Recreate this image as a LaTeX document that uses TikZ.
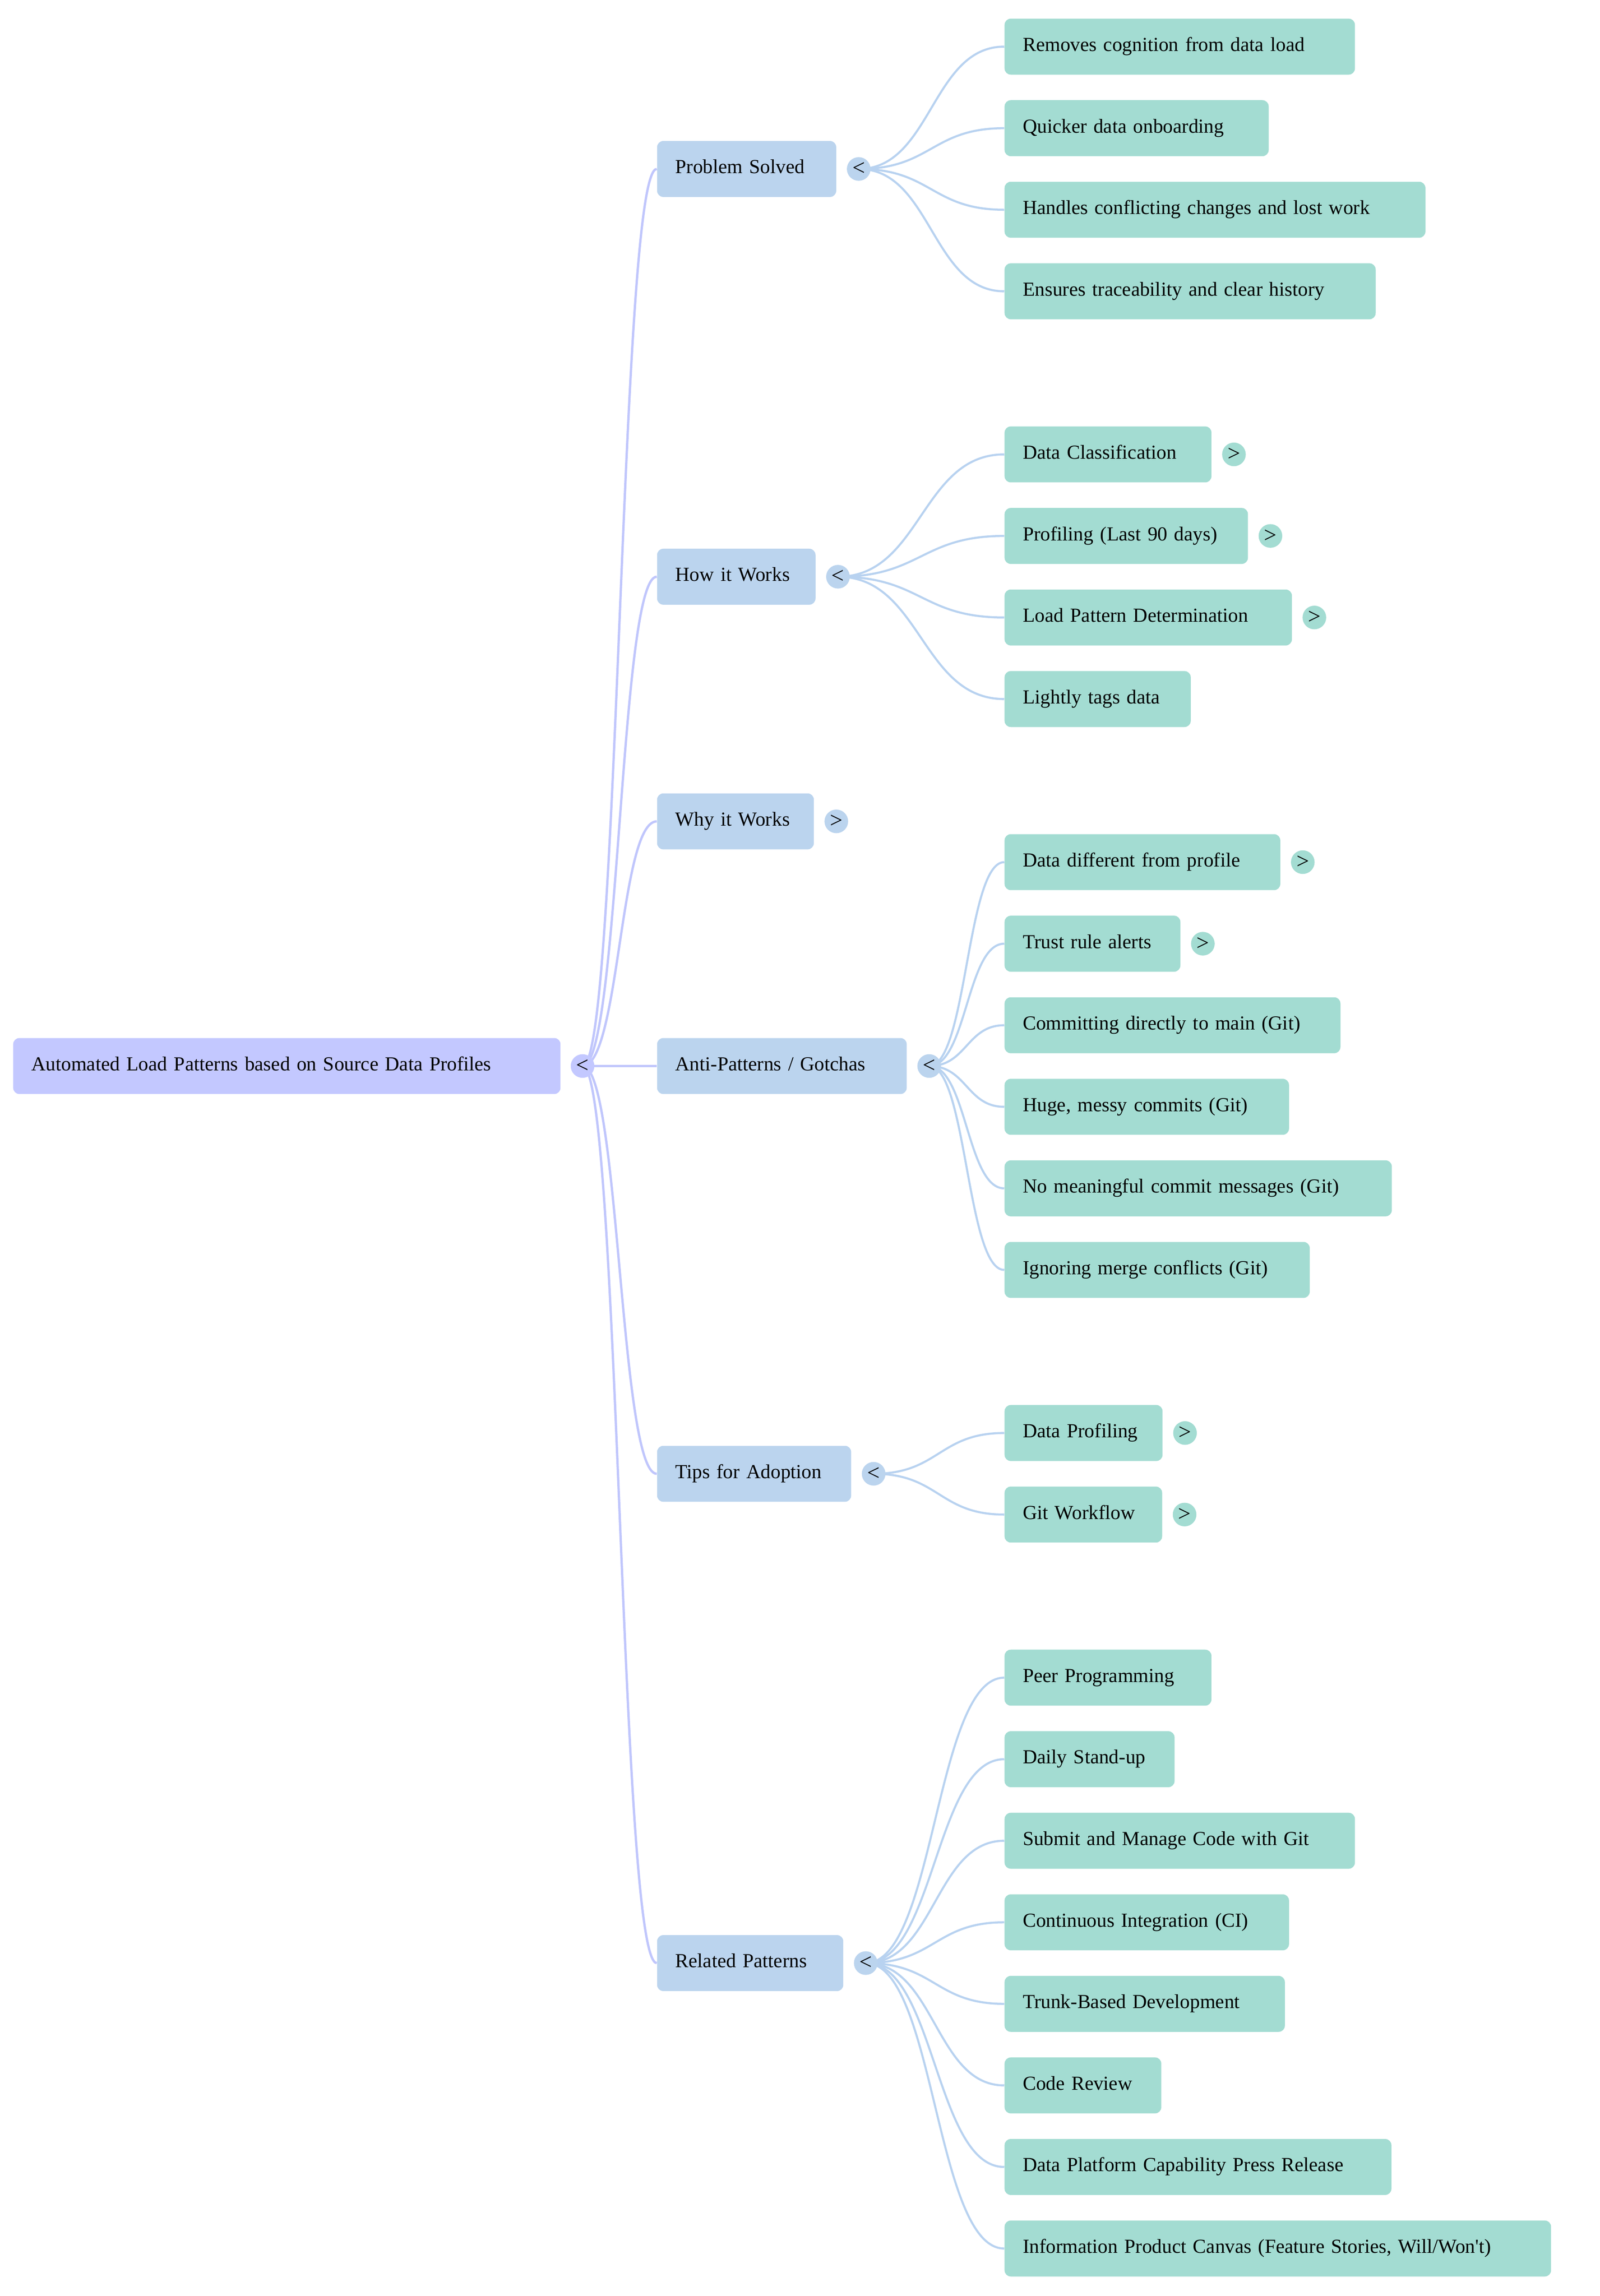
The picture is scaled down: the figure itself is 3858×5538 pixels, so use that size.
\documentclass[tikz,border=0pt]{standalone}
\usepackage{fontspec}
\setmainfont{Liberation Serif}[Ligatures=TeXOff]
\usetikzlibrary{calc}
\pgfdeclarelayer{back}
\pgfdeclarelayer{bg}
\pgfsetlayers{back,bg,main}
\definecolor{rootc}{HTML}{C3C8FF}
\definecolor{lonec}{HTML}{BBD4EE}
\definecolor{ltwoc}{HTML}{A3DCD2}
\definecolor{rootline}{HTML}{C0C6FC}
\definecolor{oneline}{HTML}{B8D2F0}
\tikzset{
  x=0.25pt, y=-0.25pt,
  mmfont/.style={font=\fontsize{12pt}{14pt}\selectfont},
  box/.style={mmfont, anchor=west, rounded corners=3.75pt, minimum height=33.75pt,
    inner xsep=11pt, inner ysep=0pt, text height=9pt, text depth=3.5pt, align=left, text=black},
  bw/.style={minimum width=#1*0.25pt, text width=#1*0.25pt-22pt},
  lvz/.style={box, fill=rootc},
  lvo/.style={box, fill=lonec},
  lvt/.style={box, fill=ltwoc},
  tog/.style={font=\fontsize{13.5pt}{16pt}\selectfont, circle, inner sep=0pt,
    minimum size=14.25pt, text=black},
  togz/.style={tog, fill=rootc},
  togo/.style={tog, fill=lonec},
  togt/.style={tog, fill=ltwoc},
  mmlink/.style={to path={let \p1=(\tikztostart), \p2=(\tikztotarget) in
     .. controls ({(\x1+\x2)/2},\y1) and ({(\x1+\x2)/2},\y2) .. (\tikztotarget)}},
  linkz/.style={mmlink, draw=rootline, line width=1.4pt},
  linko/.style={mmlink, draw=oneline, line width=1.25pt},
}
\begin{document}
\begin{tikzpicture}
\begin{pgfonlayer}{back}
\fill[white] (0,0) rectangle (3858,5538);
\end{pgfonlayer}
\useasboundingbox (0,0) rectangle (3858,5538);

% root
\node[lvz, bw=1320] (R) at (31,2571.25) {\mbox{Automated Load Patterns based on Source Data Profiles}};
\node[togz] (tR) at (1405,2571.25) {<};

% level 1
\node[lvo, bw=432] (P) at (1584,407.55) {\mbox{Problem Solved}};
\node[togo] (tP) at (2071,407.55) {<};
\node[lvo, bw=382] (H) at (1584,1391.05) {\mbox{How it Works}};
\node[togo] (tH) at (2021,1391.05) {<};
\node[lvo, bw=378] (W) at (1584,1981.15) {\mbox{Why it Works}};
\node[togo] (tW) at (2017,1981.15) {>};
\node[lvo, bw=602] (A) at (1584,2571.25) {\mbox{Anti-Patterns / Gotchas}};
\node[togo] (tA) at (2241,2571.25) {<};
\node[lvo, bw=468] (T) at (1584,3554.75) {\mbox{Tips for Adoption}};
\node[togo] (tT) at (2107,3554.75) {<};
\node[lvo, bw=449] (Q) at (1584,4734.95) {\mbox{Related Patterns}};
\node[togo] (tQ) at (2088,4734.95) {<};

% level 2: Problem Solved
\node[lvt, bw=845] (P1) at (2422,112.5) {\mbox{Removes cognition from data load}};
\node[lvt, bw=637] (P2) at (2422,309.2) {\mbox{Quicker data onboarding}};
\node[lvt, bw=1015] (P3) at (2422,505.9) {\mbox{Handles conflicting changes and lost work}};
\node[lvt, bw=895] (P4) at (2422,702.6) {\mbox{Ensures traceability and clear history}};

% level 2: How it Works
\node[lvt, bw=499] (H1) at (2422,1096.0) {\mbox{Data Classification}};
\node[togt] (tH1) at (2976,1096.0) {>};
\node[lvt, bw=587] (H2) at (2422,1292.7) {\mbox{Profiling (Last 90 days)}};
\node[togt] (tH2) at (3064,1292.7) {>};
\node[lvt, bw=693] (H3) at (2422,1489.4) {\mbox{Load Pattern Determination}};
\node[togt] (tH3) at (3170,1489.4) {>};
\node[lvt, bw=449] (H4) at (2422,1686.1) {\mbox{Lightly tags data}};

% level 2: Anti-Patterns
\node[lvt, bw=665] (A1) at (2422,2079.5) {\mbox{Data different from profile}};
\node[togt] (tA1) at (3142,2079.5) {>};
\node[lvt, bw=424] (A2) at (2422,2276.2) {\mbox{Trust rule alerts}};
\node[togt] (tA2) at (2901,2276.2) {>};
\node[lvt, bw=810] (A3) at (2422,2472.9) {\mbox{Committing directly to main (Git)}};
\node[lvt, bw=686] (A4) at (2422,2669.6) {\mbox{Huge, messy commits (Git)}};
\node[lvt, bw=934] (A5) at (2422,2866.3) {\mbox{No meaningful commit messages (Git)}};
\node[lvt, bw=736] (A6) at (2422,3063.0) {\mbox{Ignoring merge conflicts (Git)}};

% level 2: Tips
\node[lvt, bw=381] (T1) at (2422,3456.4) {\mbox{Data Profiling}};
\node[togt] (tT1) at (2858,3456.4) {>};
\node[lvt, bw=380] (T2) at (2422,3653.1) {\mbox{Git Workflow}};
\node[togt] (tT2) at (2857,3653.1) {>};

% level 2: Related Patterns
\node[lvt, bw=499] (Q1) at (2422,4046.5) {\mbox{Peer Programming}};
\node[lvt, bw=410] (Q2) at (2422,4243.2) {\mbox{Daily Stand-up}};
\node[lvt, bw=845] (Q3) at (2422,4439.9) {\mbox{Submit and Manage Code with Git}};
\node[lvt, bw=686] (Q4) at (2422,4636.6) {\mbox{Continuous Integration (CI)}};
\node[lvt, bw=676] (Q5) at (2422,4833.3) {\mbox{Trunk-Based Development}};
\node[lvt, bw=378] (Q6) at (2422,5030.0) {\mbox{Code Review}};
\node[lvt, bw=933] (Q7) at (2422,5226.7) {\mbox{Data Platform Capability Press Release}};
\node[lvt, bw=1318] (Q8) at (2422,5423.4) {\mbox{Information Product Canvas (Feature Stories, Will/Won't)}};

\begin{pgfonlayer}{bg}
\foreach \k in {P,H,W,A,T,Q} \draw[linkz] (tR.center) to (\k.west);
\foreach \k in {P1,P2,P3,P4} \draw[linko] (tP.center) to (\k.west);
\foreach \k in {H1,H2,H3,H4} \draw[linko] (tH.center) to (\k.west);
\foreach \k in {A1,A2,A3,A4,A5,A6} \draw[linko] (tA.center) to (\k.west);
\foreach \k in {T1,T2} \draw[linko] (tT.center) to (\k.west);
\foreach \k in {Q1,Q2,Q3,Q4,Q5,Q6,Q7,Q8} \draw[linko] (tQ.center) to (\k.west);
\end{pgfonlayer}
\end{tikzpicture}
\end{document}
